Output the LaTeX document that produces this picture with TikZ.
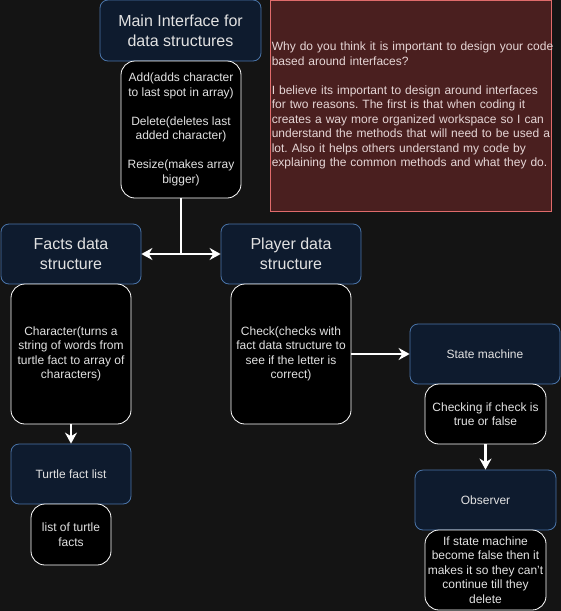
\documentclass[tikz,border=0pt]{standalone}
\usepackage{fontspec}
\setmainfont{Liberation Sans}
\usetikzlibrary{arrows.meta}
\definecolor{bgcol}{HTML}{141414}
\definecolor{headfill}{HTML}{0E1B2E}
\definecolor{headline}{HTML}{4A74A8}
\definecolor{notefill}{HTML}{4A1F1F}
\definecolor{noteline}{HTML}{E06B6B}
\definecolor{txt}{HTML}{E2E2E2}
\definecolor{notetxt}{HTML}{E6D6D6}
\frenchspacing
\begin{document}
\begin{tikzpicture}[x=1pt,y=-1pt,
    head/.style={draw=headline,fill=headfill,rounded corners=8pt,text=txt,align=center,inner sep=0pt,line width=0.8pt},
    big/.style={font=\fontsize{16}{20}\selectfont},
    small/.style={font=\fontsize{12}{14.5}\selectfont},
    ops/.style={draw=white,fill=black,rounded corners=14pt,text=txt,align=center,inner sep=0pt,line width=0.8pt,font=\fontsize{12}{14.5}\selectfont},
    link/.style={draw=white,line width=2.5pt,-{Stealth[length=11pt,width=12pt]}}]

    % Hintergrund
    \fill[bgcol] (0,0) rectangle (561,611);
    \useasboundingbox (0,0) rectangle (561,611);

    % Notiz
    \node[draw=noteline,fill=notefill,inner sep=0pt,line width=0.8pt,
          minimum width=281pt,minimum height=211pt] (note) at (410.5,105.5) {};
    \node[anchor=west,text=notetxt,align=left,inner sep=0pt,text width=290pt,
          font=\fontsize{12}{14.5}\selectfont] (notetext) at ([xshift=2pt]note.west)
        {Why do you think it is important to design your code\\based around interfaces?\\[14.5pt]
         I believe its important to design around interfaces\\for two reasons. The first is that when coding it\\creates a way more organized workspace so I can\\understand the methods that will need to be used a\\lot. Also it helps others understand my code by\\explaining the common methods and what they do.};

    % Interface
    \node[head,big,minimum width=161pt,minimum height=61pt] (main) at (180.5,30.5) {Main Interface for\\data structures};
    \node[ops,minimum width=120pt,minimum height=137pt] (mainops) at (181,129.5)
        {Add(adds character\\to last spot in array)\\[14.5pt]Delete(deletes last\\added character)\\[14.5pt]Resize(makes array\\bigger)};

    % Datenstrukturen
    \node[head,big,minimum width=140pt,minimum height=60pt] (facts) at (71,254) {Facts data\\structure};
    \node[ops,minimum width=120pt,minimum height=140pt] (factsops) at (71,354)
        {Character(turns a\\string of words from\\turtle fact to array of\\characters)};
    \node[head,big,minimum width=140pt,minimum height=60pt] (player) at (291,254) {Player data\\structure};
    \node[ops,minimum width=120pt,minimum height=140pt] (playerops) at (291,354)
        {Check(checks with\\fact data structure to\\see if the letter is\\correct)};

    \node[head,small,minimum width=120pt,minimum height=60pt] (turtle) at (71,474) {Turtle fact list};
    \node[ops,minimum width=80pt,minimum height=61pt] (turtleops) at (71,534.5) {list of turtle\\facts};

    % Zustand
    \node[head,small,minimum width=150pt,minimum height=60pt] (state) at (485,354) {State machine};
    \node[ops,minimum width=121pt,minimum height=60pt] (stateops) at (485.5,414) {Checking if check is\\true or false};
    \node[head,small,minimum width=141pt,minimum height=60pt] (observer) at (485.5,500) {Observer};
    \node[ops,minimum width=121pt,minimum height=80pt] (observerops) at (485.5,570)
        {If state machine\\become false then it\\makes it so they can't\\continue till they\\delete};

    % Pfeile
    \draw[link,-] (mainops.south) -- (mainops.south |- facts.east);
    \draw[link,{Stealth[length=11pt,width=12pt]}-{Stealth[length=11pt,width=12pt]}] (facts.east) -- (player.west);
    \draw[link] (factsops.south) -- (turtle.north);
    \draw[link] (playerops.east) -- (state.west);
    \draw[link] (stateops.south) -- (stateops.south |- observer.north);
\end{tikzpicture}
\end{document}
